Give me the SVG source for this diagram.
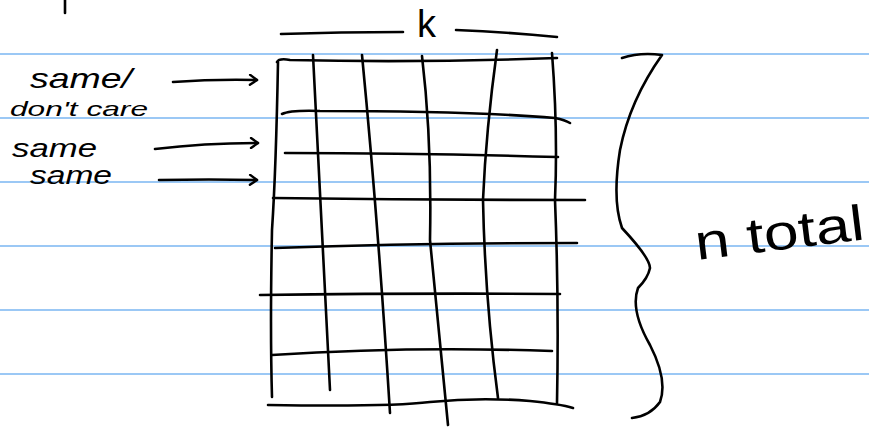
<svg xmlns="http://www.w3.org/2000/svg" width="869" height="427" viewBox="0 0 869 427">
<style>
.rule{stroke:#7ab6f2;stroke-width:1.6;fill:none}
.ink{stroke:#000;stroke-width:2.6;fill:none;stroke-linecap:round;stroke-linejoin:round}
.txt{font-family:"Liberation Sans","DejaVu Sans",sans-serif;fill:#000}
</style>
<defs>
<marker id="ah" markerWidth="12" markerHeight="12" refX="9" refY="6" orient="auto" markerUnits="userSpaceOnUse">
<path d="M2,1 L9,6 L2,11" fill="none" stroke="#000" stroke-width="2.4" stroke-linecap="round" stroke-linejoin="round"/>
</marker>
</defs>
<rect width="869" height="427" fill="#fff"/>
<g id="paper-rules">
<line class="rule" x1="0" y1="54" x2="869" y2="54"/>
<line class="rule" x1="0" y1="118" x2="869" y2="118"/>
<line class="rule" x1="0" y1="182" x2="869" y2="182"/>
<line class="rule" x1="0" y1="246" x2="869" y2="246"/>
<line class="rule" x1="0" y1="310" x2="869" y2="310"/>
<line class="rule" x1="0" y1="374" x2="869" y2="374"/>
</g>
<path class="ink" d="M65,0 L65,13"/>
<g id="label-same-dontcare">
<text class="txt" x="30" y="88" font-size="28" textLength="102" lengthAdjust="spacingAndGlyphs" font-style="italic">same/</text>
<text class="txt" x="10" y="116" font-size="21" textLength="138" lengthAdjust="spacingAndGlyphs" font-style="italic">don't care</text>
</g>
<g id="label-same-1">
<text class="txt" x="12" y="157" font-size="26" textLength="85" lengthAdjust="spacingAndGlyphs" font-style="italic">same</text>
</g>
<g id="label-same-2">
<text class="txt" x="30" y="184" font-size="26" textLength="82" lengthAdjust="spacingAndGlyphs" font-style="italic">same</text>
</g>
<g id="k-dimension">
<path class="ink" d="M281,34 Q340,32 403,32"/>
<text class="txt" x="417" y="37" font-size="38">k</text>
<path class="ink" d="M456,30 Q505,32 557,37"/>
</g>
<g id="matrix">
<path class="ink" d="M277,62 Q279,58 290,60 Q420,63 557,58"/>
<path class="ink" d="M282,114 Q290,110 320,111 Q470,111 555,118 Q565,120 570,123"/>
<path class="ink" d="M285,153 Q420,153 558,157"/>
<path class="ink" d="M273,198 Q430,200 585,200"/>
<path class="ink" d="M275,248 Q420,243 577,243"/>
<path class="ink" d="M260,295 Q420,293 560,294"/>
<path class="ink" d="M272,355 Q410,346 552,351"/>
<path class="ink" d="M268,405 Q390,407 430,402 Q480,397 530,401 Q560,404 573,408"/>
<path class="ink" d="M278,62 Q276,170 272,230 Q270,330 272,397"/>
<path class="ink" d="M313,55 Q322,220 330,390"/>
<path class="ink" d="M362,55 Q378,220 390,413"/>
<path class="ink" d="M422,56 Q432,140 430,240 Q440,340 448,425"/>
<path class="ink" d="M497,50 Q486,130 483,200 Q485,300 498,398"/>
<path class="ink" d="M552,53 Q558,130 555,200 Q559,300 557,403"/>
</g>
<g id="brace-n-total">
<path class="ink" d="M622,58 Q640,52 662,55 Q630,100 620,150 Q612,200 622,228 Q650,258 650,268 Q648,278 638,288 Q630,310 650,345 Q668,380 660,402 Q650,416 632,418"/>
<text class="txt" x="697" y="260" font-size="50" textLength="170" lengthAdjust="spacingAndGlyphs" transform="rotate(-7 697 260)">n total</text>
</g>
<g id="connectors">
<path class="ink" d="M173,82 Q215,79 257,80" marker-end="url(#ah)"/>
<path class="ink" d="M155,149 Q205,143 258,143" marker-end="url(#ah)"/>
<path class="ink" d="M159,180 Q210,179 257,180" marker-end="url(#ah)"/>
</g>
</svg>
